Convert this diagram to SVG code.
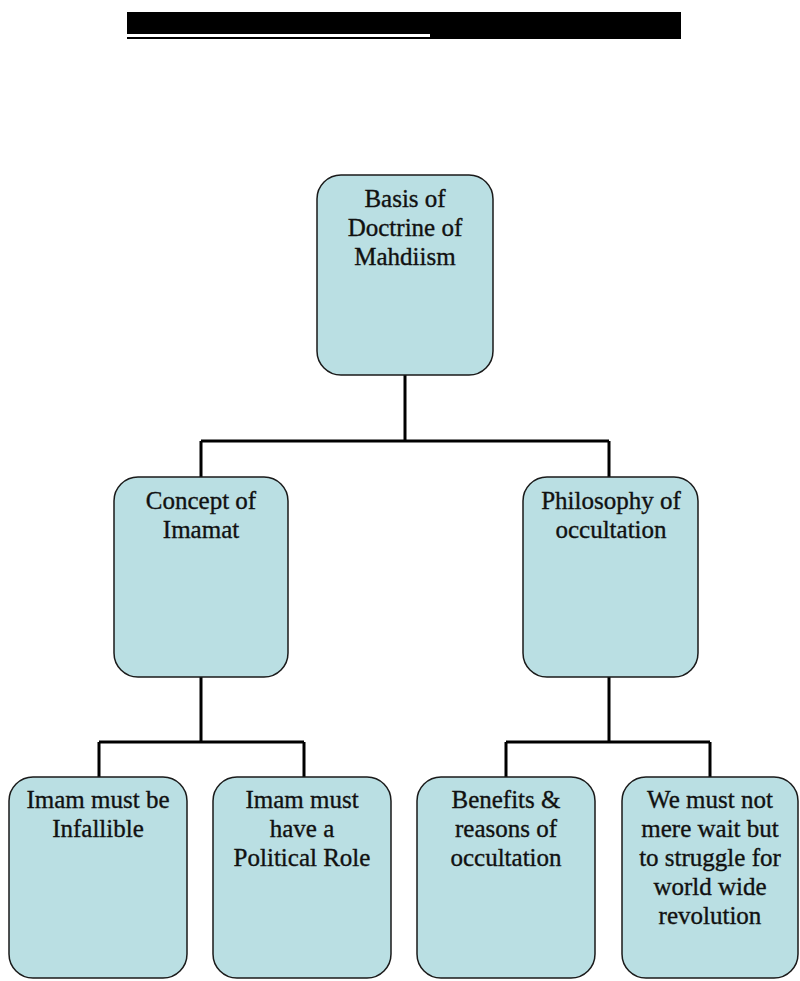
<svg xmlns="http://www.w3.org/2000/svg" width="800" height="981" viewBox="0 0 800 981">
<style>
.box{fill:#BADFE3;stroke:#1a1a1a;stroke-width:1.5}
.lbl{font-family:"Liberation Serif","Times New Roman",serif;font-size:25px;fill:#111;stroke:#111;stroke-width:0.35;text-anchor:middle}
.con{fill:none;stroke:#000;stroke-width:3}
</style>
<rect width="800" height="981" fill="#fff"/>
<g id="header">
<rect x="127" y="12" width="554" height="27" fill="#000"/>
<rect x="127" y="34" width="303" height="3" fill="#fff"/>
</g>
<g id="connectors">
<path class="con" d="M405 375V441M201 441H609M201 441V477M609 441V477"/>
<path class="con" d="M201 677V742M99 742H304M99 742V777M304 742V777"/>
<path class="con" d="M609 677V742M506 742H710M506 742V777M710 742V777"/>
</g>
<g id="root">
<rect class="box" x="317" y="175" width="176" height="200" rx="24"/>
<text class="lbl" x="405" y="207">Basis of</text>
<text class="lbl" x="405" y="236">Doctrine of</text>
<text class="lbl" x="405" y="265">Mahdiism</text>
</g>
<g id="imamat">
<rect class="box" x="114" y="477" width="174" height="200" rx="24"/>
<text class="lbl" x="201" y="509">Concept of</text>
<text class="lbl" x="201" y="538">Imamat</text>
</g>
<g id="occultation">
<rect class="box" x="523" y="477" width="175" height="200" rx="24"/>
<text class="lbl" x="611" y="509">Philosophy of</text>
<text class="lbl" x="611" y="538">occultation</text>
</g>
<g id="infallible">
<rect class="box" x="9" y="777" width="178" height="201" rx="24"/>
<text class="lbl" x="98" y="808">Imam must be</text>
<text class="lbl" x="98" y="837">Infallible</text>
</g>
<g id="political">
<rect class="box" x="213" y="777" width="178" height="201" rx="24"/>
<text class="lbl" x="302" y="808">Imam must</text>
<text class="lbl" x="302" y="837">have a</text>
<text class="lbl" x="302" y="866">Political Role</text>
</g>
<g id="benefits">
<rect class="box" x="417" y="777" width="178" height="201" rx="24"/>
<text class="lbl" x="506" y="808">Benefits &amp;</text>
<text class="lbl" x="506" y="837">reasons of</text>
<text class="lbl" x="506" y="866">occultation</text>
</g>
<g id="struggle">
<rect class="box" x="622" y="777" width="176" height="201" rx="24"/>
<text class="lbl" x="710" y="808">We must not</text>
<text class="lbl" x="710" y="837">mere wait but</text>
<text class="lbl" x="710" y="866">to struggle for</text>
<text class="lbl" x="710" y="895">world wide</text>
<text class="lbl" x="710" y="924">revolution</text>
</g>
</svg>
